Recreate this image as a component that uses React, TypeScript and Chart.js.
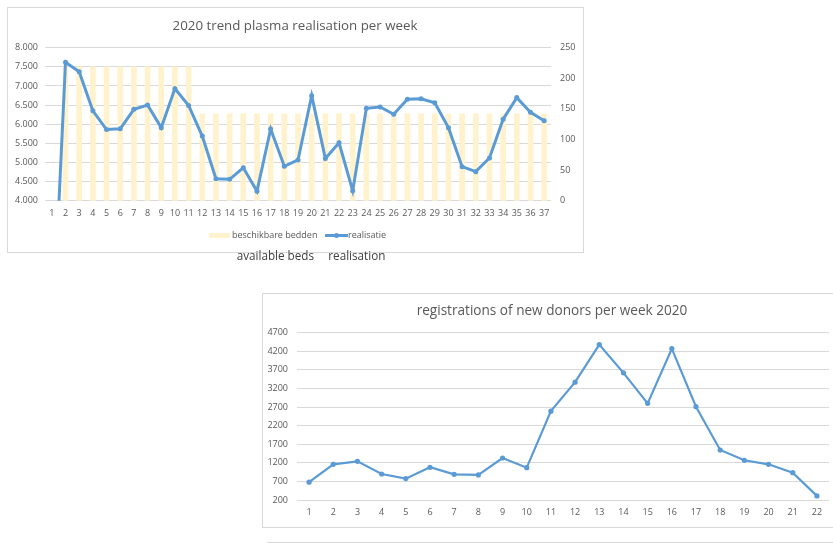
import React, { useEffect, useRef } from "react";
import { Chart, registerables } from "chart.js";

Chart.register(...registerables);

// ---------- Chart 1: 2020 trend plasma realisation per week ----------
const weeks1 = [
  "1", "2", "3", "4", "5", "6", "7", "8", "9", "10",
  "11", "12", "13", "14", "15", "16", "17", "18", "19", "20",
  "21", "22", "23", "24", "25", "26", "27", "28", "29", "30",
  "31", "32", "33", "34", "35", "36", "37",
];
const beschikbareBedden = [
  null, 7500, 7500, 7500, 7500, 7500, 7500, 7500, 7500, 7500,
  7500, 6270, 6270, 6270, 6270, 6270, 6270, 6270, 6270, 6270,
  6270, 6270, 6270, 6270, 6270, 6270, 6270, 6270, 6270, 6270,
  6270, 6270, 6270, 6270, 6270, 6270, 6270,
];
const realisatie = [
  0, 7620, 7370, 6350, 5860, 5880, 6390, 6500, 5910, 6930,
  6490, 5690, 4575, 4560, 4860, 4250, 5875, 4900, 5065, 6745,
  5105, 5515, 4260, 6415, 6450, 6260, 6650, 6665, 6560, 5910,
  4890, 4760, 5115, 6130, 6695, 6310, 6090,
];
const leftAxis1 = { min: 4000, max: 8000, step: 500 };
const rightAxis1 = { min: 0, max: 250, step: 50 };

// ---------- Chart 2: registrations of new donors per week 2020 ----------
const weeks2 = [
  "1", "2", "3", "4", "5", "6", "7", "8", "9", "10", "11",
  "12", "13", "14", "15", "16", "17", "18", "19", "20", "21", "22",
];
const registrations = [
  680, 1160, 1240, 900, 775, 1080, 890, 875, 1330, 1070, 2590,
  3370, 4380, 3620, 2800, 4270, 2710, 1545, 1268, 1160, 935, 310,
];
const axis2 = { min: 200, max: 4700, step: 500 };

const BLUE = "#5B9BD5";
const CREAM = "#FFF2CC";
const GRID = "#D9D9D9";
const TEXT = "#595959";
const FONT = "'Open Sans', sans-serif";

Chart.defaults.font.family = FONT;
Chart.defaults.font.size = 9;
Chart.defaults.color = TEXT;

function fmtDot(v: number) {
  const s = Math.round(v).toString();
  if (s.length <= 3) return s;
  return s.slice(0, s.length - 3) + "." + s.slice(s.length - 3);
}

export default function App() {
  const c1 = useRef<HTMLCanvasElement | null>(null);
  const c2 = useRef<HTMLCanvasElement | null>(null);

  useEffect(() => {
    const ch1 = new Chart(c1.current as HTMLCanvasElement, {
      type: "bar",
      data: {
        labels: weeks1,
        datasets: [
          {
            type: "line",
            label: "realisatie",
            data: realisatie,
            borderColor: BLUE,
            backgroundColor: BLUE,
            borderWidth: 3,
            pointRadius: 2.5,
            pointBackgroundColor: BLUE,
            pointBorderColor: BLUE,
            pointBorderWidth: 0,
            tension: 0,
            yAxisID: "y",
            order: 0,
          },
          {
            type: "bar",
            label: "beschikbare bedden",
            data: beschikbareBedden,
            backgroundColor: CREAM,
            borderWidth: 0,
            barThickness: 5,
            yAxisID: "y",
            order: 1,
          },
        ] as any,
      },
      options: {
        animation: false,
        responsive: false,
        devicePixelRatio: 1,
        layout: { padding: { top: 40.7, bottom: 32.3, left: 0, right: 0 } },
        plugins: { legend: { display: false }, title: { display: false }, tooltip: { enabled: false } },
        scales: {
          x: {
            type: "category",
            offset: true,
            grid: { display: false, drawTicks: false },
            border: { display: false },
            ticks: { autoSkip: false, maxRotation: 0, padding: 7, color: TEXT },
            afterFit: (s: any) => { s.height = 20; },
          },
          y: {
            position: "left",
            min: leftAxis1.min,
            max: leftAxis1.max,
            ticks: { stepSize: leftAxis1.step, padding: 7, color: TEXT, callback: (v: any) => fmtDot(Number(v)) },
            grid: { color: GRID, drawTicks: false, lineWidth: 1 },
            border: { display: false },
            afterFit: (s: any) => { s.width = 38; },
          },
          y2: {
            position: "right",
            min: rightAxis1.min,
            max: rightAxis1.max,
            ticks: { stepSize: rightAxis1.step, padding: 9, color: TEXT },
            grid: { display: false, drawTicks: false },
            border: { display: false },
            afterFit: (s: any) => { s.width = 33; },
          },
        },
      } as any,
    });

    const ch2 = new Chart(c2.current as HTMLCanvasElement, {
      type: "line",
      data: {
        labels: weeks2,
        datasets: [
          {
            label: "registrations",
            data: registrations,
            borderColor: BLUE,
            backgroundColor: BLUE,
            borderWidth: 2.2,
            pointRadius: 2.6,
            pointBackgroundColor: BLUE,
            pointBorderColor: BLUE,
            pointBorderWidth: 0,
            tension: 0,
          },
        ],
      },
      options: {
        animation: false,
        responsive: false,
        devicePixelRatio: 1,
        layout: { padding: { top: 39.7, bottom: 7, left: 0, right: 3.5 } },
        plugins: { legend: { display: false }, title: { display: false }, tooltip: { enabled: false } },
        scales: {
          x: {
            type: "category",
            offset: true,
            grid: { display: false, drawTicks: false },
            border: { display: false },
            ticks: { autoSkip: false, maxRotation: 0, padding: 7, color: TEXT },
            afterFit: (s: any) => { s.height = 20; },
          },
          y: {
            min: axis2.min,
            max: axis2.max,
            ticks: { stepSize: axis2.step, padding: 9, color: TEXT, callback: (v: any) => String(Math.round(Number(v))) },
            grid: { color: GRID, drawTicks: false, lineWidth: 1 },
            border: { display: false },
            afterFit: (s: any) => { s.width = 35; },
          },
        },
      } as any,
    });

    return () => {
      ch1.destroy();
      ch2.destroy();
    };
  }, []);

  const abs = (l: number, t: number, extra: React.CSSProperties = {}): React.CSSProperties => ({
    position: "absolute",
    left: l,
    top: t,
    ...extra,
  });

  return (
    <div
      style={{
        position: "fixed",
        left: 0,
        top: 0,
        width: 833,
        height: 543,
        overflow: "hidden",
        background: "#fff",
        fontFamily: FONT,
      }}
    >
      {/* Chart 1 frame */}
      <div style={abs(7, 7, { width: 577, height: 246, border: `1px solid ${GRID}`, boxSizing: "border-box" })} />
      <canvas ref={c1} width={577} height={246} style={abs(7, 7, { width: 577, height: 246 })} />
      <div
        style={abs(95, 17.4, {
          width: 400,
          textAlign: "center",
          fontSize: 13.3,
          lineHeight: "16px",
          color: TEXT,
          whiteSpace: "nowrap",
        })}
      >
        2020 trend plasma realisation per week
      </div>
      {/* legend chart 1 */}
      <div style={abs(209, 233, { width: 21, height: 5, background: CREAM })} />
      <div style={abs(232, 229, { fontSize: 9, lineHeight: "12px", color: TEXT, whiteSpace: "nowrap" })}>
        beschikbare bedden
      </div>
      <div style={abs(325, 234, { width: 23, height: 3, background: BLUE })} />
      <div style={abs(334, 233, { width: 5, height: 5, borderRadius: "50%", background: BLUE })} />
      <div style={abs(348, 229, { fontSize: 9, lineHeight: "12px", color: TEXT, whiteSpace: "nowrap" })}>
        realisatie
      </div>
      {/* translation captions */}
      <div style={abs(236.7, 248.2, { fontSize: 11.7, lineHeight: "14px", color: "#404040", whiteSpace: "nowrap" })}>
        available beds
      </div>
      <div style={abs(328.3, 248.2, { fontSize: 11.7, lineHeight: "14px", color: "#404040", whiteSpace: "nowrap" })}>
        realisation
      </div>

      {/* Chart 2 frame */}
      <div style={abs(262, 293, { width: 600, height: 235, border: `1px solid ${GRID}`, boxSizing: "border-box" })} />
      <canvas ref={c2} width={571} height={234} style={abs(262, 293, { width: 571, height: 234 })} />
      <div
        style={abs(352, 301.6, {
          width: 400,
          textAlign: "center",
          fontSize: 13.6,
          lineHeight: "16px",
          color: TEXT,
          whiteSpace: "nowrap",
        })}
      >
        registrations of new donors per week 2020
      </div>
      <div style={abs(266.7, 542, { width: 600, height: 1, background: GRID })} />
    </div>
  );
}
